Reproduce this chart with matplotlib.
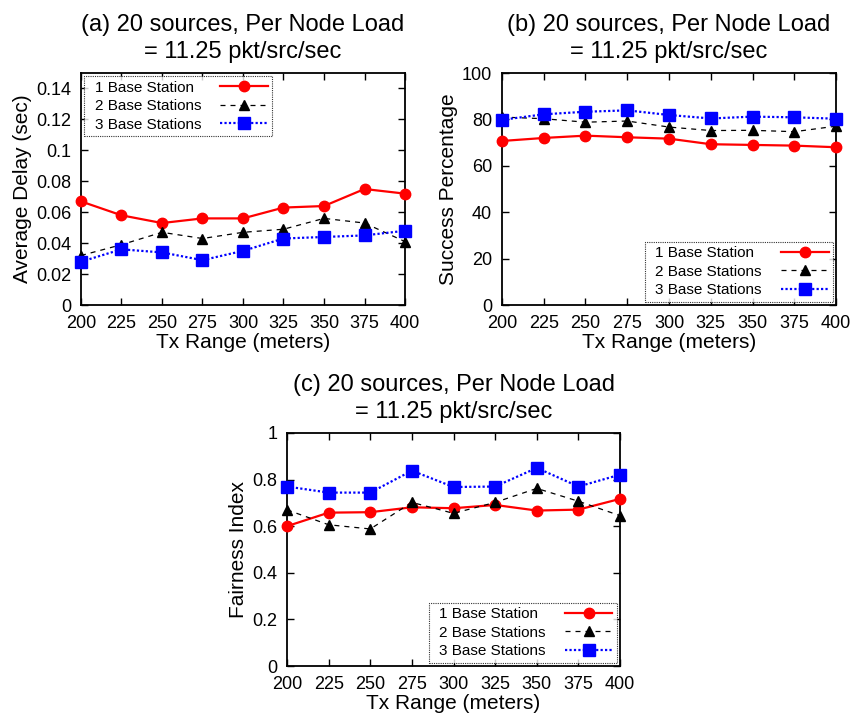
import matplotlib
matplotlib.use("Agg")
import matplotlib.pyplot as plt

plt.rcParams["font.family"] = ["Liberation Sans", "DejaVu Sans"]

TX_RANGE = [200, 225, 250, 275, 300, 325, 350, 375, 400]
LABELS = ["1 Base Station", "2 Base Stations", "3 Base Stations"]

# (a) average delay (sec)
DELAY_1BS = [0.067, 0.058, 0.053, 0.056, 0.056, 0.063, 0.064, 0.075, 0.072]
DELAY_2BS = [0.032, 0.039, 0.047, 0.043, 0.047, 0.049, 0.056, 0.053, 0.041]
DELAY_3BS = [0.028, 0.036, 0.034, 0.029, 0.035, 0.043, 0.044, 0.045, 0.048]

# (b) success percentage
SUCC_1BS = [70.7, 72.0, 73.0, 72.3, 71.7, 69.3, 69.0, 68.7, 68.0]
SUCC_2BS = [81.0, 80.3, 78.8, 79.3, 76.7, 75.2, 75.3, 74.7, 77.1]
SUCC_3BS = [79.8, 82.2, 83.3, 83.9, 81.9, 80.4, 81.2, 80.9, 80.3]

# (c) fairness index
FAIR_1BS = [0.600, 0.658, 0.660, 0.681, 0.677, 0.691, 0.667, 0.671, 0.717]
FAIR_2BS = [0.670, 0.606, 0.588, 0.702, 0.655, 0.702, 0.762, 0.707, 0.645]
FAIR_3BS = [0.770, 0.744, 0.744, 0.838, 0.768, 0.770, 0.850, 0.770, 0.821]

TITLE_LOAD = "20 sources, Per Node Load\n= 11.25 pkt/src/sec"

STYLES = [
    dict(color="#ff0000", linestyle="-", linewidth=1.6, marker="o", markersize=7.5),
    dict(color="#000000", linestyle=(0, (4, 4)), linewidth=0.9, marker="^", markersize=6.5),
    dict(color="#0000ff", linestyle=(0, (1, 1)), linewidth=1.6, marker="s", markersize=8),
]

legends = []


def draw_panel(ax, series, title, ylabel, ylim, yticks, legend_loc):
    for vals, lbl, st in zip(series, LABELS, STYLES):
        ax.plot(TX_RANGE, vals, label=lbl, clip_on=False, zorder=3, **st)
    ax.set_xlim(200, 400)
    ax.set_ylim(*ylim)
    ax.set_xticks(TX_RANGE)
    ax.set_yticks(yticks)
    ax.set_yticklabels([f"{v:g}" for v in yticks])
    ax.tick_params(direction="in", top=True, right=True, labelsize=13,
                   length=5, width=1, pad=7)
    for sp in ax.spines.values():
        sp.set_linewidth(1.3)
    ax.set_title(title, fontsize=17, pad=11, linespacing=1.25)
    ax.set_xlabel("Tx Range (meters)", fontsize=15, labelpad=1)
    ax.set_ylabel(ylabel, fontsize=15, labelpad=3)
    leg = ax.legend(loc=legend_loc, markerfirst=False, fontsize=11,
                    handlelength=3.1, fancybox=False, borderaxespad=0.2,
                    labelspacing=0.3, borderpad=0.3, handletextpad=1.65)
    fr = leg.get_frame()
    fr.set_edgecolor("black")
    fr.set_linestyle((0, (1, 1)))
    fr.set_linewidth(0.8)
    legends.append(leg)


fig = plt.figure(figsize=(8.55, 7.15), dpi=100)

ax_a = fig.add_axes([0.0947, 0.5734, 0.379, 0.3245])
draw_panel(ax_a, [DELAY_1BS, DELAY_2BS, DELAY_3BS], "(a) " + TITLE_LOAD,
           "Average Delay (sec)", (0, 0.15),
           [0, 0.02, 0.04, 0.06, 0.08, 0.1, 0.12, 0.14], "upper left")

ax_b = fig.add_axes([0.587, 0.5734, 0.391, 0.3245])
draw_panel(ax_b, [SUCC_1BS, SUCC_2BS, SUCC_3BS], "(b) " + TITLE_LOAD,
           "Success Percentage", (0, 100),
           [0, 20, 40, 60, 80, 100], "lower right")

ax_c = fig.add_axes([0.3357, 0.0685, 0.3895, 0.326])
draw_panel(ax_c, [FAIR_1BS, FAIR_2BS, FAIR_3BS], "(c) " + TITLE_LOAD,
           "Fairness Index", (0, 1),
           [0, 0.2, 0.4, 0.6, 0.8, 1], "lower right")

# gnuplot-style keys: text left-aligned with some left margin, samples on the right
fig.canvas.draw()
renderer = fig.canvas.get_renderer()
for leg in legends:
    texts = leg.get_texts()
    widths = [t.get_window_extent(renderer).width for t in texts]
    wmax = max(widths)
    for t, w in zip(texts, widths):
        x, y = t.get_position()
        t.set_position((x - (wmax - w) + 6, y))

fig.savefig("out.png", dpi=100)
